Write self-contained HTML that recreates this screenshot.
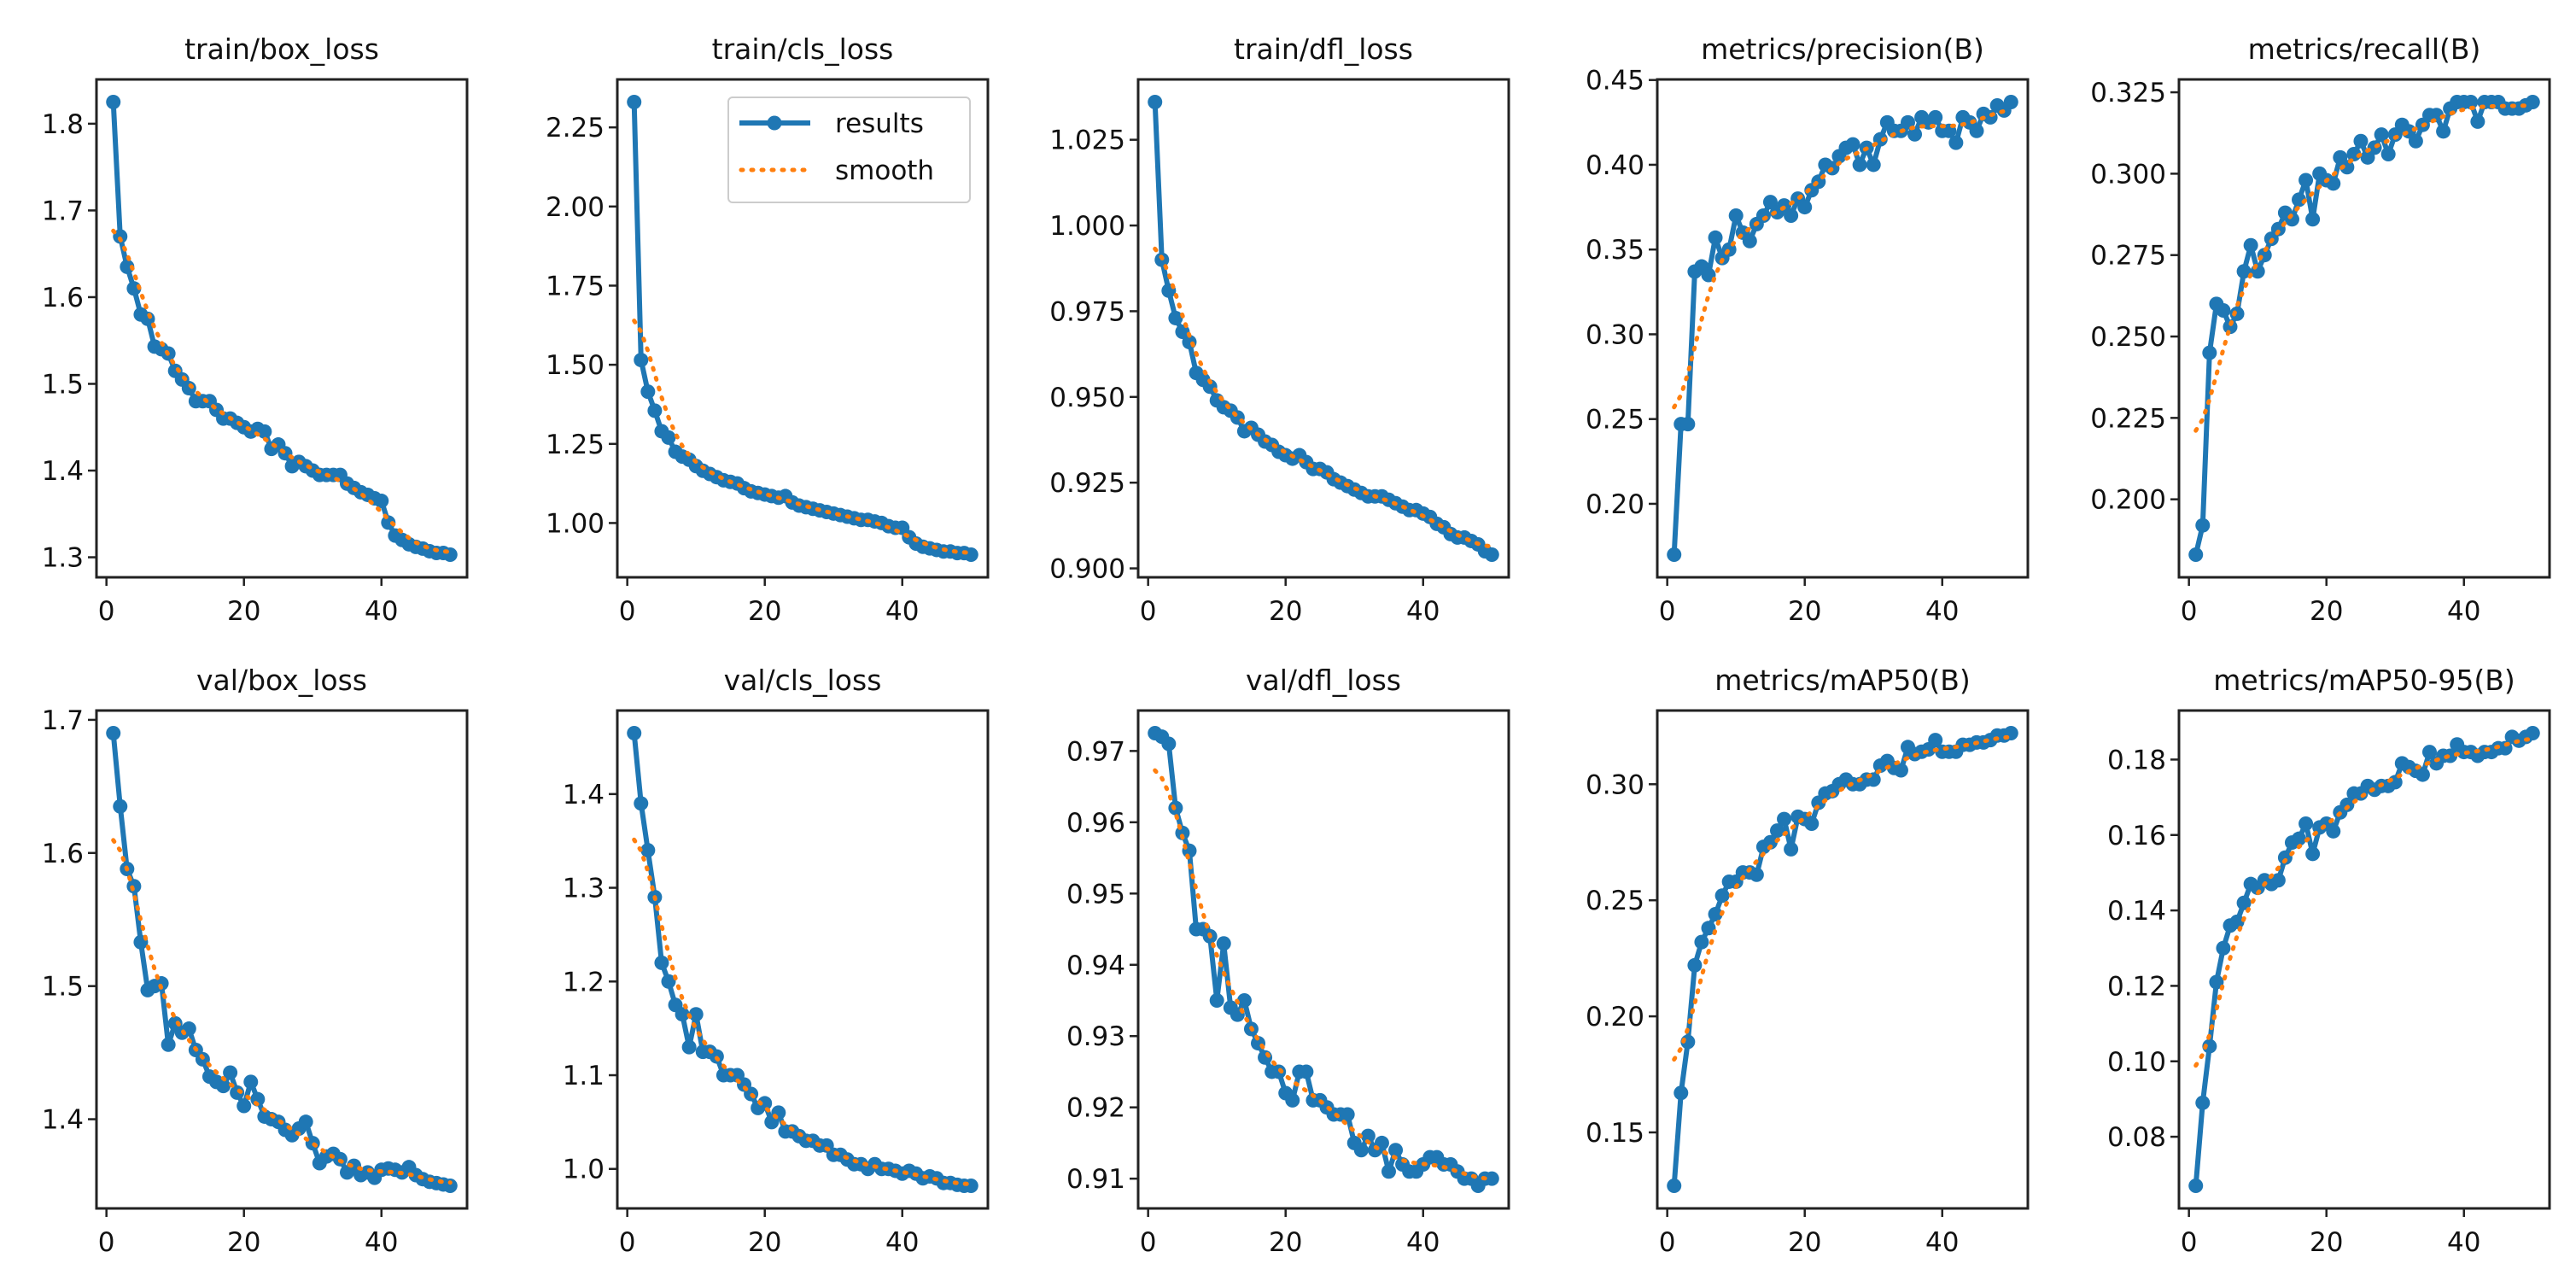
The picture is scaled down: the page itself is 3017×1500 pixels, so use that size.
<!DOCTYPE html>
<html><head><meta charset="utf-8"><style>
html,body{margin:0;padding:0;background:#fff;}
svg{display:block;font-family:"DejaVu Sans","Liberation Sans",sans-serif;}
</style></head><body>
<svg id="fig" width="3017" height="1500" viewBox="0 0 3017 1500"></svg>
<script>
const epochs = Array.from({length:50},(_,i)=>i+1);
const titles = ["train/box_loss","train/cls_loss","train/dfl_loss","metrics/precision(B)","metrics/recall(B)","val/box_loss","val/cls_loss","val/dfl_loss","metrics/mAP50(B)","metrics/mAP50-95(B)"];
const trainBox = [1.825,1.67,1.635,1.61,1.58,1.575,1.543,1.54,1.535,1.515,1.505,1.495,1.48,1.48,1.48,1.47,1.46,1.46,1.455,1.45,1.445,1.448,1.445,1.425,1.43,1.42,1.405,1.41,1.405,1.40,1.395,1.395,1.395,1.395,1.385,1.38,1.375,1.372,1.368,1.365,1.34,1.325,1.32,1.315,1.312,1.31,1.307,1.305,1.305,1.303];
const trainCls = [2.33,1.515,1.415,1.355,1.29,1.27,1.225,1.21,1.2,1.18,1.165,1.155,1.145,1.135,1.13,1.125,1.11,1.10,1.095,1.09,1.085,1.08,1.085,1.065,1.055,1.05,1.045,1.04,1.035,1.03,1.025,1.02,1.015,1.01,1.01,1.005,1.0,0.99,0.985,0.985,0.955,0.935,0.925,0.92,0.915,0.91,0.91,0.905,0.905,0.9];
const trainDfl = [1.036,0.99,0.981,0.973,0.969,0.966,0.957,0.955,0.953,0.949,0.947,0.946,0.944,0.94,0.941,0.939,0.937,0.936,0.934,0.933,0.932,0.933,0.931,0.929,0.929,0.928,0.926,0.925,0.924,0.923,0.922,0.921,0.921,0.921,0.92,0.919,0.918,0.917,0.917,0.916,0.915,0.913,0.912,0.91,0.909,0.909,0.908,0.907,0.905,0.904];
const precision = [0.17,0.247,0.247,0.337,0.34,0.335,0.357,0.345,0.35,0.37,0.36,0.355,0.365,0.37,0.378,0.372,0.376,0.37,0.38,0.375,0.385,0.39,0.40,0.398,0.405,0.41,0.412,0.4,0.41,0.4,0.415,0.425,0.42,0.42,0.425,0.418,0.428,0.425,0.428,0.42,0.42,0.413,0.428,0.425,0.42,0.43,0.428,0.435,0.432,0.437];
const recall = [0.183,0.192,0.245,0.26,0.258,0.253,0.257,0.27,0.278,0.27,0.275,0.28,0.283,0.288,0.286,0.292,0.298,0.286,0.3,0.298,0.297,0.305,0.302,0.306,0.31,0.305,0.308,0.312,0.306,0.312,0.315,0.313,0.31,0.315,0.318,0.318,0.313,0.32,0.322,0.322,0.322,0.316,0.322,0.322,0.322,0.32,0.32,0.32,0.321,0.322];
const valBox = [1.69,1.635,1.588,1.575,1.533,1.497,1.5,1.502,1.456,1.472,1.465,1.468,1.452,1.445,1.432,1.428,1.425,1.435,1.42,1.41,1.428,1.415,1.402,1.4,1.398,1.392,1.388,1.393,1.398,1.382,1.367,1.372,1.374,1.37,1.36,1.365,1.358,1.36,1.356,1.362,1.363,1.362,1.36,1.364,1.358,1.355,1.353,1.352,1.351,1.35];
const valCls = [1.465,1.39,1.34,1.29,1.22,1.2,1.175,1.165,1.13,1.165,1.125,1.125,1.12,1.1,1.1,1.1,1.09,1.08,1.065,1.07,1.05,1.06,1.04,1.04,1.035,1.03,1.03,1.025,1.025,1.015,1.015,1.01,1.005,1.005,1.0,1.005,1.0,1.0,0.998,0.995,0.998,0.995,0.99,0.992,0.99,0.985,0.985,0.983,0.982,0.982];
const valDfl = [0.9725,0.972,0.971,0.962,0.9585,0.956,0.945,0.945,0.944,0.935,0.943,0.934,0.933,0.935,0.931,0.929,0.927,0.925,0.925,0.922,0.921,0.925,0.925,0.921,0.921,0.92,0.919,0.919,0.919,0.915,0.914,0.916,0.914,0.915,0.911,0.914,0.912,0.911,0.911,0.912,0.913,0.913,0.912,0.912,0.911,0.91,0.91,0.909,0.91,0.91];
const map50 = [0.127,0.167,0.189,0.222,0.232,0.238,0.244,0.252,0.258,0.258,0.262,0.262,0.261,0.273,0.275,0.28,0.285,0.272,0.286,0.285,0.283,0.292,0.296,0.297,0.3,0.302,0.3,0.3,0.302,0.302,0.308,0.31,0.307,0.306,0.316,0.313,0.314,0.315,0.319,0.314,0.314,0.314,0.317,0.317,0.318,0.318,0.319,0.321,0.321,0.322];
const map5095 = [0.067,0.089,0.104,0.121,0.13,0.136,0.137,0.142,0.147,0.146,0.148,0.147,0.148,0.154,0.158,0.159,0.163,0.155,0.162,0.163,0.161,0.166,0.168,0.171,0.171,0.173,0.172,0.173,0.173,0.174,0.179,0.178,0.177,0.176,0.182,0.179,0.181,0.181,0.184,0.182,0.182,0.181,0.182,0.182,0.183,0.183,0.186,0.185,0.186,0.187];
const series = [trainBox,trainCls,trainDfl,precision,recall,valBox,valCls,valDfl,map50,map5095];
const yTicks = [[1.3,1.4,1.5,1.6,1.7,1.8],[1.0,1.25,1.5,1.75,2.0,2.25],[0.9,0.925,0.95,0.975,1.0,1.025],[0.2,0.25,0.3,0.35,0.4,0.45],[0.2,0.225,0.25,0.275,0.3,0.325],[1.4,1.5,1.6,1.7],[1.0,1.1,1.2,1.3,1.4],[0.91,0.92,0.93,0.94,0.95,0.96,0.97],[0.15,0.2,0.25,0.3],[0.08,0.1,0.12,0.14,0.16,0.18]];
const yTickLabels = [["1.3","1.4","1.5","1.6","1.7","1.8"],["1.00","1.25","1.50","1.75","2.00","2.25"],["0.900","0.925","0.950","0.975","1.000","1.025"],["0.20","0.25","0.30","0.35","0.40","0.45"],["0.200","0.225","0.250","0.275","0.300","0.325"],["1.4","1.5","1.6","1.7"],["1.0","1.1","1.2","1.3","1.4"],["0.91","0.92","0.93","0.94","0.95","0.96","0.97"],["0.15","0.20","0.25","0.30"],["0.08","0.10","0.12","0.14","0.16","0.18"]];
const xTicks = [0,20,40];
const xTickLabels = ["0","20","40"];

const NS="http://www.w3.org/2000/svg";
const svg=document.getElementById('fig');
const lefts=[113,723,1333,1941,2552];
const W=434, H=583, tops=[93,832];
function mk(tag,attrs,parent){const e=document.createElementNS(NS,tag);for(const k in attrs)e.setAttribute(k,attrs[k]);(parent||svg).appendChild(e);return e;}
function gauss(y,sigma){const r=Math.ceil(4*sigma),n=y.length,out=[];const w=[];let s=0;for(let k=-r;k<=r;k++){const v=Math.exp(-k*k/(2*sigma*sigma));w.push(v);s+=v;}
 for(let i=0;i<n;i++){let a=0;for(let k=-r;k<=r;k++){let j=i+k;while(j<0||j>=n){if(j<0)j=-j-1;if(j>=n)j=2*n-j-1;}a+=w[k+r]*y[j];}out.push(a/s);}return out;}
function lim(arr){const mn=Math.min(...arr),mx=Math.max(...arr),m=(mx-mn)*0.05;return [mn-m,mx+m];}
const xr=lim(epochs);
series.forEach((ys,p)=>{
 const L=lefts[p%5],T=tops[Math.floor(p/5)];
 const yr=lim(ys);
 const X=v=>L+(v-xr[0])/(xr[1]-xr[0])*W;
 const Y=v=>T+(yr[1]-v)/(yr[1]-yr[0])*H;
 const g=mk('g',{});
 
 
 const t=mk('text',{x:L+W/2,y:T-24,'text-anchor':'middle','font-size':33,fill:'#111'},g);t.textContent=titles[p];
 
 
 yTicks[p].forEach((v,i)=>{const yy=Y(v);
  const tk=mk('line',{x1:L-10,x2:L,y1:yy,y2:yy,stroke:'#222','stroke-width':2.5},g);
  
  
  const tl=mk('text',{x:L-15,y:yy+11,'text-anchor':'end','font-size':31,fill:'#111'},g);tl.textContent=yTickLabels[p][i];
  
  });
 xTicks.forEach((v,i)=>{const xx=X(v);
  const tk=mk('line',{x1:xx,x2:xx,y1:T+H,y2:T+H+10,stroke:'#222','stroke-width':2.5},g);
  
  
  const tl=mk('text',{x:xx,y:T+H+50,'text-anchor':'middle','font-size':31,fill:'#111'},g);tl.textContent=xTickLabels[i];
  
  });
 const pts=ys.map((v,i)=>X(epochs[i]).toFixed(1)+','+Y(v).toFixed(1)).join(' ');
 const ln=mk('polyline',{points:pts,fill:'none',stroke:'#1f77b4','stroke-width':6,'stroke-linejoin':'round'},g);
 
 
 ys.forEach((v,i)=>{const c=mk('circle',{cx:X(epochs[i]),cy:Y(v),r:8.5,fill:'#1f77b4'},g);
  
  });
 const sm=gauss(ys,3);
 const sp=sm.map((v,i)=>X(epochs[i]).toFixed(1)+','+Y(v).toFixed(1)).join(' ');
 const sl=mk('polyline',{points:sp,fill:'none',stroke:'#ff7f0e','stroke-width':5,'stroke-dasharray':'2 10','stroke-linecap':'round'},g);
 
 
 const fr=mk('rect',{x:L,y:T,width:W,height:H,fill:'none',stroke:'#222','stroke-width':3},g);
 
 
 if(p===1){
  const lg=mk('g',{},g);
  
  
  mk('rect',{x:853,y:114,width:283,height:123,rx:5,fill:'#fff','fill-opacity':0.8,stroke:'#ccc','stroke-width':2},lg);
  mk('line',{x1:866,x2:949,y1:144,y2:144,stroke:'#1f77b4','stroke-width':6},lg);
  mk('circle',{cx:907,cy:144,r:8.5,fill:'#1f77b4'},lg);
  const a=mk('text',{x:978,y:155,'font-size':31,fill:'#111'},lg);a.textContent='results';
  
  
  mk('line',{x1:868,x2:949,y1:199,y2:199,stroke:'#ff7f0e','stroke-width':5,'stroke-dasharray':'2 10','stroke-linecap':'round'},lg);
  const b=mk('text',{x:978,y:210,'font-size':31,fill:'#111'},lg);b.textContent='smooth';
  
  
 }
});
</script>
</body></html>
